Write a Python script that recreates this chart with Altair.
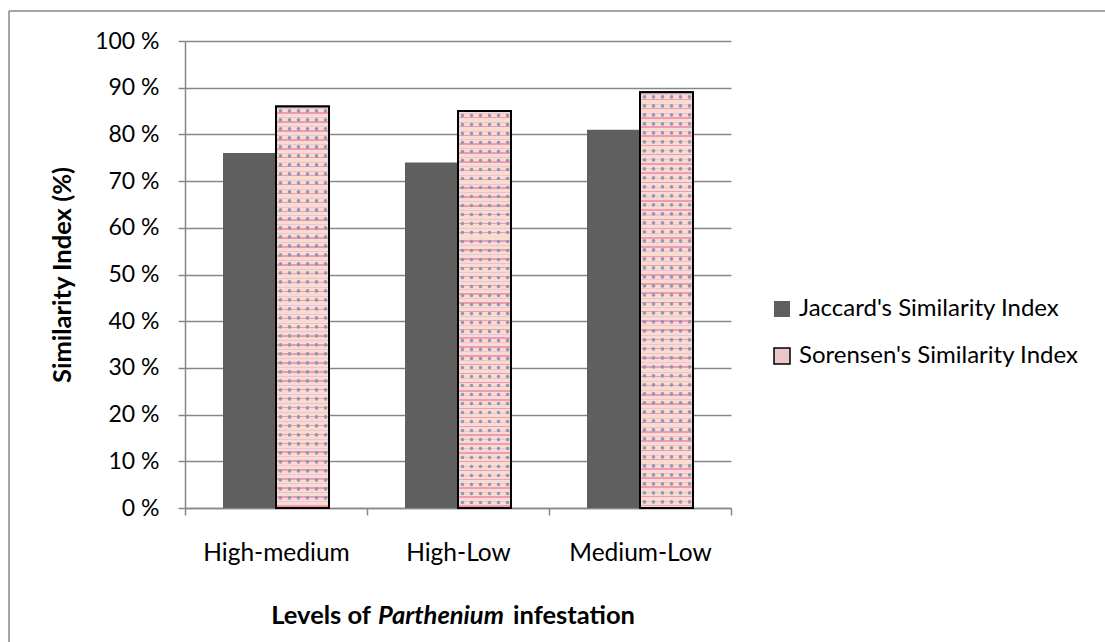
import altair as alt
import pandas as pd

# Similarity between infestation levels
levels = ["High-medium", "High-Low", "Medium-Low"]
series_names = ["Jaccard's Similarity Index", "Sorensen's Similarity Index"]
jaccard = [76, 74, 81]
sorensen = [86, 85, 89]
y_ticks = [0, 10, 20, 30, 40, 50, 60, 70, 80, 90, 100]

rows = []
for lv, j, s in zip(levels, jaccard, sorensen):
    rows.append({"level": lv, "index": series_names[0], "value": j})
    rows.append({"level": lv, "index": series_names[1], "value": s})
df = pd.DataFrame(rows)

W, H = 546, 467
STEP = W / len(levels)
FONT = "Lato"
FS = 24
GRID = "#878787"
DARK = "#5f5f5f"
PINK_AVG = "#ebc7c9"

# --- textured fill for the Sorensen bars: peach ground with pink lines ---
PEACH = "#f9dccf"
PINKLINE = "#f09ab5"
LILAC = "#e9c3d6"
ref_h = 405.0
period = 9.0
band = [(0.0, 2.0, PEACH), (2.0, 3.0, LILAC), (3.0, 6.0, PEACH), (6.0, 7.5, PINKLINE), (7.5, 9.0, PEACH)]
v_stops = []
start = 0.0
while start < ref_h:
    for a, b, c in band:
        o1 = min((start + a) / ref_h, 1.0)
        o2 = min((start + b) / ref_h, 1.0)
        v_stops.append(alt.GradientStop(offset=o1, color=c))
        v_stops.append(alt.GradientStop(offset=o2, color=c))
    start += period
row_fill = alt.LinearGradient(gradient="linear", x1=0, y1=0, x2=0, y2=1, stops=v_stops)

x_axis = alt.Axis(title=None, tickBand="extent", labelAngle=0, grid=False,
                  tickSize=7, labelPadding=26, labelBaseline="top", labelFontSize=24.5)
x_scale = alt.Scale(paddingInner=0, paddingOuter=0)
x_enc = alt.X("level:N", sort=levels, scale=x_scale, axis=x_axis)
xoff = alt.XOffset("index:N", sort=series_names,
                   scale=alt.Scale(paddingInner=0, paddingOuter=0.717))
y_enc = alt.Y(
    "value:Q",
    scale=alt.Scale(domain=[0, 100], nice=False),
    axis=alt.Axis(values=y_ticks, labelExpr="datum.value + ' %'", grid=True,
                  tickSize=7, labelPadding=19, labelFontSize=23,
                  title="Similarity Index (%)", titleFont=FONT, titleFontSize=25.5,
                  titleFontWeight="bold", titleColor="black", titleAngle=270,
                  titleX=-123, titleY=233.5, titleAlign="center", titleBaseline="middle"),
)

legend = alt.Legend(
    title=None, orient="none", legendX=585, legendY=256,
    symbolType="square", symbolSize=256, symbolStrokeWidth=1.5,
    labelFont=FONT, labelFontSize=FS, labelColor="black", labelOffset=5,
    labelLimit=0, rowPadding=23, padding=0,
)

base = alt.Chart(df)

bars = base.mark_bar(strokeWidth=2).encode(
    x=x_enc, xOffset=xoff, y=y_enc,
    fill=alt.Fill("index:N", sort=series_names,
                  scale=alt.Scale(domain=series_names, range=[DARK, PINK_AVG]),
                  legend=legend),
    stroke=alt.Stroke("index:N", sort=series_names,
                      scale=alt.Scale(domain=series_names, range=["transparent", "#000000"]),
                      legend=legend),
)

sor = base.transform_filter(alt.datum.index == series_names[1])
rows_layer = sor.mark_bar(fill=row_fill).encode(x=x_enc, xOffset=xoff, y=y_enc)

# columns of small grey-blue dots inside each Sorensen bar
# (the Sorensen bar spans roughly 0.5 .. 0.79 of its category band)
dot_layers = []
for px in [4.5, 13.5, 22.5, 31.5, 40.5, 49.5]:
    frac = (STEP / 2 + px) / STEP
    dot_layers.append(
        sor.mark_rule(color="#8e99b6", strokeWidth=3.6, strokeCap="round",
                      strokeDash=[0.01, 8.99], strokeDashOffset=-4.5).encode(
            x=alt.X("level:N", sort=levels, scale=x_scale, axis=x_axis, bandPosition=frac),
            y=y_enc, y2=alt.value(H - 2))
    )

outline = sor.mark_bar(fillOpacity=0, stroke="#000000", strokeWidth=2).encode(
    x=x_enc, xOffset=xoff, y=y_enc)

one = pd.DataFrame({"k": [0]})
frame_v = alt.Chart(one).mark_rule(color=GRID, strokeWidth=1.5).encode(
    x=alt.value(-176), y=alt.value(-30), y2=alt.value(601))
frame_h = alt.Chart(one).mark_rule(color=GRID, strokeWidth=1.5).encode(
    x=alt.value(-176), x2=alt.value(920), y=alt.value(-30))

title_kw = dict(font=FONT, fontSize=25.5, fontWeight="bold", color="black", baseline="middle")
t1 = alt.Chart(one).mark_text(text="Levels of", align="right", **title_kw).encode(
    x=alt.value(186), y=alt.value(575))
t2 = alt.Chart(one).mark_text(text="Parthenium", align="left", fontStyle="italic", **title_kw).encode(
    x=alt.value(193), y=alt.value(575))
t3 = alt.Chart(one).mark_text(text="infestation", align="right", **title_kw).encode(
    x=alt.value(450), y=alt.value(575))

chart = alt.layer(bars, rows_layer, *dot_layers, outline, frame_v, frame_h, t1, t2, t3).properties(
    width=W, height=H,
    padding={"left": 185, "top": 41, "right": 374, "bottom": 134},
    autosize=alt.AutoSizeParams(type="none"),
    background="white",
).configure_axis(
    labelFont=FONT, labelColor="black",
    domainColor=GRID, domainWidth=1.5, tickColor=GRID, tickWidth=1.5,
    gridColor=GRID, gridWidth=1.4,
).configure_view(strokeWidth=0)

chart.save("out.html", embed_options={"renderer": "svg", "actions": False})
